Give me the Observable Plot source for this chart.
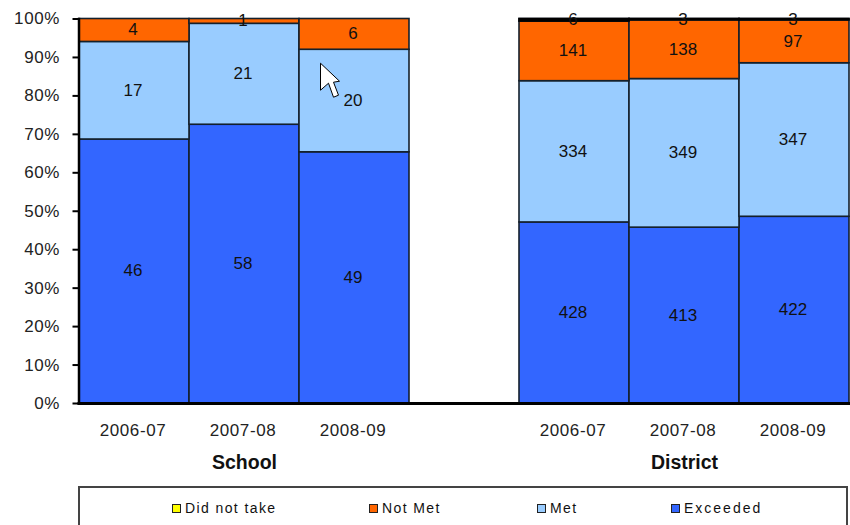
<!DOCTYPE html>
<html>
<head>
<meta charset="utf-8">
<script src="https://cdn.jsdelivr.net/npm/d3@7"></script>
<script src="https://cdn.jsdelivr.net/npm/@observablehq/plot@0.6"></script>
<style>
  html, body { margin: 0; padding: 0; width: 850px; height: 525px; overflow: hidden; background: #fff; }
  svg { display: block; }
  g[aria-label$="tick label"] text { letter-spacing: 0.6px; }
  #legend {
    position: absolute; left: 78px; top: 486px; width: 770px; height: 60px;
    box-sizing: border-box; border: 2px solid #444; background: #fff;
    font: 14px "Liberation Sans", Arial, sans-serif; letter-spacing: 1.4px; color: #111;
  }
  #legend .item { position: absolute; top: 12px; display: flex; align-items: center; gap: 4px; white-space: nowrap; }
  #legend .item:last-child { letter-spacing: 2px; }
  #legend .swatch { width: 7px; height: 7px; border: 1.5px solid #222; }
</style>
</head>
<body>
<div id="chart"></div>
<div id="legend"></div>
<script>
const years = ["2006-07", "2007-08", "2008-09"];
const groups = ["School", "District"];
const statuses = ["Exceeded", "Met", "Not Met", "Did not take"];
const statusColors = ["#3366FF", "#99CCFF", "#FF6600", "#FFFF00"];

const schoolExceeded = [46, 58, 49];
const schoolMet = [17, 21, 20];
const schoolNotMet = [4, 1, 6];
const schoolDidNotTake = [0, 0, 0];

const districtExceeded = [428, 413, 422];
const districtMet = [334, 349, 347];
const districtNotMet = [141, 138, 97];
const districtDidNotTake = [6, 3, 3];

const seriesByGroup = {
  School: [schoolExceeded, schoolMet, schoolNotMet, schoolDidNotTake],
  District: [districtExceeded, districtMet, districtNotMet, districtDidNotTake]
};

// Band keys: the empty slot between the two groups keeps them apart.
const keyOf = (group, year) => `${group} ${year}`;
const spacer = "spacer";
const bands = [
  ...years.map((y) => keyOf("School", y)),
  spacer,
  ...years.map((y) => keyOf("District", y))
];

const rows = groups.flatMap((group) =>
  statuses.flatMap((status, s) =>
    years.map((year, i) => ({
      key: keyOf(group, year),
      status,
      value: seriesByGroup[group][s][i]
    }))
  )
);
const labelled = rows.filter((d) => d.value > 0);

const stack = (extra) => Plot.stackY({
  x: "key", y: "value", z: "status", order: statuses, offset: "normalize", ...extra
});

// Mouse pointer resting over the last school bar.
const pointer = {
  draw(ctx) {
    ctx.moveTo(0, 0);
    ctx.lineTo(0, 27);
    ctx.lineTo(8, 20);
    ctx.lineTo(13, 34);
    ctx.lineTo(18, 32);
    ctx.lineTo(13, 19);
    ctx.lineTo(19, 18);
    ctx.closePath();
  }
};

const font = "Liberation Sans, Arial, sans-serif";

const chart = Plot.plot({
  width: 850,
  height: 480,
  marginTop: 18.5,
  marginRight: 0,
  marginBottom: 77,
  marginLeft: 78.5,
  style: { fontFamily: font, background: "#fff", color: "#111" },
  x: { domain: bands, padding: 0 },
  y: { domain: [0, 1] },
  color: { domain: statuses, range: statusColors },
  marks: [
    Plot.barY(rows, stack({ fill: "status", stroke: "#14202c", strokeWidth: 1.6 })),
    // The thin "did not take" slivers read as a heavy black cap on the bar.
    Plot.barY(rows, Plot.filter(
      (d) => d.status === "Did not take" && d.value > 0,
      stack({ fill: "#000", stroke: "#000", strokeWidth: 1.5 })
    )),
    Plot.text(labelled, stack({ text: "value", fontSize: 17, fill: "#111", dx: -1.5, dy: -0.5 })),
    Plot.frame({ anchor: "left", stroke: "#000", strokeWidth: 2.5 }),
    Plot.frame({ anchor: "bottom", stroke: "#000", strokeWidth: 3 }),
    Plot.axisY({
      ticks: d3.range(0, 1.01, 0.1),
      tickFormat: d3.format(".0%"),
      tickSize: 6,
      tickPadding: 13,
      strokeWidth: 2,
      stroke: "#000",
      fontSize: 17,
      fill: "#222",
      textStroke: "none",
      label: null
    }),
    Plot.axisX({
      ticks: bands.filter((b) => b !== spacer),
      tickFormat: (k) => k.split(" ")[1],
      tickSize: 0,
      tickPadding: 20,
      dx: -1.5,
      fontSize: 17,
      fill: "#222",
      label: null
    }),
    Plot.text(groups, {
      x: (g) => keyOf(g, years[1]),
      text: (g) => g,
      frameAnchor: "bottom",
      dy: 65.5,
      fontSize: 19.5,
      fontWeight: "bold",
      fill: "#111"
    }),
    Plot.dot([0.885], {
      x: () => keyOf("School", years[2]),
      y: (d) => d,
      symbol: pointer,
      dx: -34,
      fill: "#fff",
      stroke: "#000",
      strokeWidth: 1
    })
  ]
});
document.getElementById("chart").append(chart);

// Legend box below the chart, listing the stack from top to bottom.
const legendStarts = [92, 289, 457, 591];
const legend = d3.select("#legend");
statuses.slice().reverse().forEach((status, i) => {
  const item = legend.append("div").attr("class", "item").style("left", legendStarts[i] + "px");
  item.append("span").attr("class", "swatch")
    .style("background", statusColors[statuses.indexOf(status)]);
  item.append("span").text(status);
});
</script>
</body>
</html>
